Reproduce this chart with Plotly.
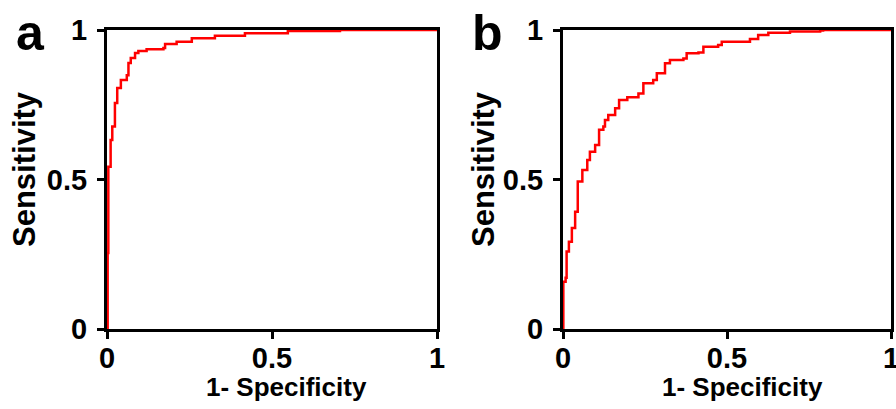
import plotly.graph_objects as go

# Panel a ROC curve (1-specificity, sensitivity)
a_fpr = [0.0, 0.002, 0.002, 0.004, 0.004, 0.011, 0.011, 0.016, 0.016, 0.024, 0.024, 0.031, 0.031,
         0.042, 0.060, 0.065, 0.072, 0.085, 0.095, 0.120, 0.171, 0.176, 0.211, 0.257, 0.327,
         0.418, 0.548, 0.706, 1.0]
a_tpr = [0.0, 0.0, 0.254, 0.254, 0.543, 0.543, 0.632, 0.632, 0.677, 0.677, 0.756, 0.756, 0.806,
         0.833, 0.849, 0.890, 0.906, 0.923, 0.930, 0.936, 0.940, 0.953, 0.961, 0.972, 0.981,
         0.989, 0.997, 1.0, 1.0]

# Panel b ROC curve
b_fpr = [0.0, 0.001, 0.001, 0.008, 0.011, 0.018, 0.027, 0.037, 0.045, 0.059, 0.074, 0.082,
         0.098, 0.110, 0.123, 0.128, 0.138, 0.159, 0.171, 0.196, 0.230, 0.245, 0.275, 0.286,
         0.311, 0.326, 0.367, 0.377, 0.413, 0.428, 0.473, 0.484, 0.570, 0.595, 0.626, 0.692,
         0.784, 0.793, 1.0]
b_tpr = [0.0, 0.097, 0.158, 0.171, 0.259, 0.292, 0.338, 0.392, 0.493, 0.532, 0.565, 0.593,
         0.615, 0.666, 0.677, 0.699, 0.716, 0.738, 0.766, 0.775, 0.788, 0.822, 0.833, 0.855,
         0.889, 0.900, 0.905, 0.922, 0.925, 0.944, 0.950, 0.961, 0.970, 0.983, 0.991, 0.995,
         0.998, 1.0, 1.0]

tick_vals = [0, 0.5, 1]
tick_text = ["0", "0.5", "1"]
x_title = "1- Specificity"
y_title = "Sensitivity"
panel_labels = ["a", "b"]

W, H = 896, 409
FONT = "Arial, 'Liberation Sans', sans-serif"

fig = go.Figure()
fig.add_trace(go.Scatter(x=a_fpr, y=a_tpr, mode="lines", line=dict(color="#ff0000", width=2.5, shape="hv"),
                         xaxis="x", yaxis="y", showlegend=False, cliponaxis=False))
fig.add_trace(go.Scatter(x=b_fpr, y=b_tpr, mode="lines", line=dict(color="#ff0000", width=2.5, shape="hv"),
                         xaxis="x2", yaxis="y2", showlegend=False, cliponaxis=False))

ydom = [1 - 329 / H, 1 - 30 / H]
xa = [107 / W, 437 / W]
xb = [563 / W, 891 / W]

axis_common = dict(range=[0, 1], tickvals=tick_vals, ticktext=tick_text, showgrid=False, zeroline=False,
                   showline=True, linecolor="black", linewidth=3, mirror=True,
                   ticks="outside", ticklen=7, tickwidth=3, tickcolor="black", automargin=False,
                   ticklabeloverflow="allow",
                   tickfont=dict(family=FONT, size=29, color="black", weight="bold"))

fig.update_layout(
    width=W, height=H, margin=dict(l=0, r=0, t=0, b=0, autoexpand=False),
    paper_bgcolor="white", plot_bgcolor="white",
    xaxis=dict(domain=xa, anchor="y", ticklabelstandoff=-6, **axis_common),
    yaxis=dict(domain=ydom, anchor="x", ticklabelstandoff=4, **axis_common),
    xaxis2=dict(domain=xb, anchor="y2", ticklabelstandoff=-6, **axis_common),
    yaxis2=dict(domain=ydom, anchor="x2", ticklabelstandoff=4, **axis_common),
)

def ann(text, x, y, size, angle=0):
    fig.add_annotation(text=text, x=x / W, y=1 - y / H, xref="paper", yref="paper", showarrow=False,
                       textangle=angle, xanchor="center", yanchor="middle",
                       font=dict(family=FONT, size=size, color="black", weight="bold"))

ann(x_title, 286, 387, 26)
ann(x_title, 742, 387, 26)
ann(y_title, 25, 169, 31, -90)
ann(y_title, 484, 169, 31, -90)
ann(panel_labels[0], 30, 33, 50)
ann(panel_labels[1], 488, 33, 50)

fig.write_html("out.html", config={"displayModeBar": False},
               post_script="document.body.style.margin='0';document.body.style.overflow='hidden';")
